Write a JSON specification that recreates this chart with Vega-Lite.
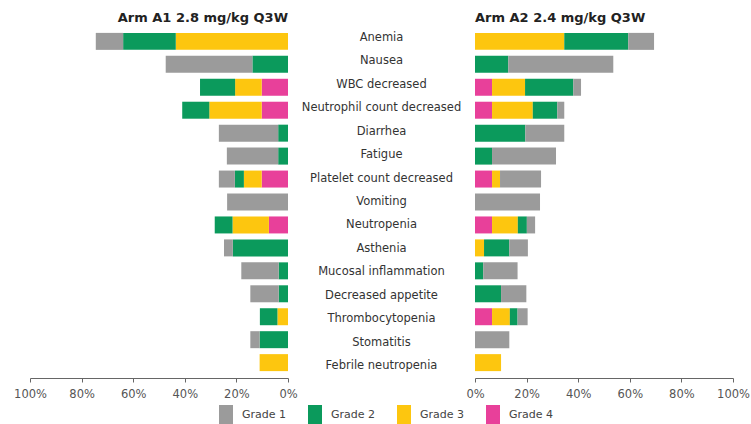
{
  "$schema": "https://vega.github.io/schema/vega-lite/v6.json",
  "padding": {"left": 13, "top": 12, "right": 0, "bottom": 0},
  "bounds": "flush",
  "spacing": 0,
  "config": {
    "view": {"stroke": null},
    "font": "DejaVu Sans",
    "axis": {"labelFont": "DejaVu Sans", "labelFontSize": 11.5, "labelColor": "#555", "domainColor": "#666", "tickColor": "#666", "tickSize": 4, "grid": false, "title": null, "labelFlush": false},
    "legend": {"labelFont": "DejaVu Sans", "labelFontSize": 11, "labelColor": "#444"}
  },
  "datasets": {
    "ae": [
      {"arm": "A1", "ae": "Anemia", "grade": "Grade 3", "pct": 43.5},
      {"arm": "A1", "ae": "Anemia", "grade": "Grade 2", "pct": 20.4},
      {"arm": "A1", "ae": "Anemia", "grade": "Grade 1", "pct": 10.6},
      {"arm": "A1", "ae": "Nausea", "grade": "Grade 2", "pct": 13.8},
      {"arm": "A1", "ae": "Nausea", "grade": "Grade 1", "pct": 33.6},
      {"arm": "A1", "ae": "WBC decreased", "grade": "Grade 4", "pct": 10.2},
      {"arm": "A1", "ae": "WBC decreased", "grade": "Grade 3", "pct": 10.3},
      {"arm": "A1", "ae": "WBC decreased", "grade": "Grade 2", "pct": 13.6},
      {"arm": "A1", "ae": "Neutrophil count decreased", "grade": "Grade 4", "pct": 10.2},
      {"arm": "A1", "ae": "Neutrophil count decreased", "grade": "Grade 3", "pct": 20.3},
      {"arm": "A1", "ae": "Neutrophil count decreased", "grade": "Grade 2", "pct": 10.5},
      {"arm": "A1", "ae": "Diarrhea", "grade": "Grade 2", "pct": 3.8},
      {"arm": "A1", "ae": "Diarrhea", "grade": "Grade 1", "pct": 23.0},
      {"arm": "A1", "ae": "Fatigue", "grade": "Grade 2", "pct": 3.8},
      {"arm": "A1", "ae": "Fatigue", "grade": "Grade 1", "pct": 19.9},
      {"arm": "A1", "ae": "Platelet count decreased", "grade": "Grade 4", "pct": 10.2},
      {"arm": "A1", "ae": "Platelet count decreased", "grade": "Grade 3", "pct": 6.9},
      {"arm": "A1", "ae": "Platelet count decreased", "grade": "Grade 2", "pct": 3.5},
      {"arm": "A1", "ae": "Platelet count decreased", "grade": "Grade 1", "pct": 6.2},
      {"arm": "A1", "ae": "Vomiting", "grade": "Grade 1", "pct": 23.6},
      {"arm": "A1", "ae": "Neutropenia", "grade": "Grade 4", "pct": 7.4},
      {"arm": "A1", "ae": "Neutropenia", "grade": "Grade 3", "pct": 14.1},
      {"arm": "A1", "ae": "Neutropenia", "grade": "Grade 2", "pct": 6.9},
      {"arm": "A1", "ae": "Asthenia", "grade": "Grade 2", "pct": 21.4},
      {"arm": "A1", "ae": "Asthenia", "grade": "Grade 1", "pct": 3.4},
      {"arm": "A1", "ae": "Mucosal inflammation", "grade": "Grade 2", "pct": 3.6},
      {"arm": "A1", "ae": "Mucosal inflammation", "grade": "Grade 1", "pct": 14.5},
      {"arm": "A1", "ae": "Decreased appetite", "grade": "Grade 2", "pct": 3.6},
      {"arm": "A1", "ae": "Decreased appetite", "grade": "Grade 1", "pct": 11.0},
      {"arm": "A1", "ae": "Thrombocytopenia", "grade": "Grade 3", "pct": 4.1},
      {"arm": "A1", "ae": "Thrombocytopenia", "grade": "Grade 2", "pct": 6.8},
      {"arm": "A1", "ae": "Stomatitis", "grade": "Grade 2", "pct": 11.0},
      {"arm": "A1", "ae": "Stomatitis", "grade": "Grade 1", "pct": 3.6},
      {"arm": "A1", "ae": "Febrile neutropenia", "grade": "Grade 3", "pct": 11.0},
      {"arm": "A2", "ae": "Anemia", "grade": "Grade 3", "pct": 34.6},
      {"arm": "A2", "ae": "Anemia", "grade": "Grade 2", "pct": 24.8},
      {"arm": "A2", "ae": "Anemia", "grade": "Grade 1", "pct": 10.0},
      {"arm": "A2", "ae": "Nausea", "grade": "Grade 2", "pct": 12.9},
      {"arm": "A2", "ae": "Nausea", "grade": "Grade 1", "pct": 40.7},
      {"arm": "A2", "ae": "WBC decreased", "grade": "Grade 4", "pct": 6.6},
      {"arm": "A2", "ae": "WBC decreased", "grade": "Grade 3", "pct": 12.8},
      {"arm": "A2", "ae": "WBC decreased", "grade": "Grade 2", "pct": 18.7},
      {"arm": "A2", "ae": "WBC decreased", "grade": "Grade 1", "pct": 3.0},
      {"arm": "A2", "ae": "Neutrophil count decreased", "grade": "Grade 4", "pct": 6.6},
      {"arm": "A2", "ae": "Neutrophil count decreased", "grade": "Grade 3", "pct": 15.8},
      {"arm": "A2", "ae": "Neutrophil count decreased", "grade": "Grade 2", "pct": 9.5},
      {"arm": "A2", "ae": "Neutrophil count decreased", "grade": "Grade 1", "pct": 2.7},
      {"arm": "A2", "ae": "Diarrhea", "grade": "Grade 2", "pct": 19.5},
      {"arm": "A2", "ae": "Diarrhea", "grade": "Grade 1", "pct": 15.1},
      {"arm": "A2", "ae": "Fatigue", "grade": "Grade 2", "pct": 6.6},
      {"arm": "A2", "ae": "Fatigue", "grade": "Grade 1", "pct": 24.8},
      {"arm": "A2", "ae": "Platelet count decreased", "grade": "Grade 4", "pct": 6.6},
      {"arm": "A2", "ae": "Platelet count decreased", "grade": "Grade 3", "pct": 3.1},
      {"arm": "A2", "ae": "Platelet count decreased", "grade": "Grade 1", "pct": 15.9},
      {"arm": "A2", "ae": "Vomiting", "grade": "Grade 1", "pct": 25.2},
      {"arm": "A2", "ae": "Neutropenia", "grade": "Grade 4", "pct": 6.6},
      {"arm": "A2", "ae": "Neutropenia", "grade": "Grade 3", "pct": 10.0},
      {"arm": "A2", "ae": "Neutropenia", "grade": "Grade 2", "pct": 3.5},
      {"arm": "A2", "ae": "Neutropenia", "grade": "Grade 1", "pct": 3.2},
      {"arm": "A2", "ae": "Asthenia", "grade": "Grade 3", "pct": 3.5},
      {"arm": "A2", "ae": "Asthenia", "grade": "Grade 2", "pct": 9.8},
      {"arm": "A2", "ae": "Asthenia", "grade": "Grade 1", "pct": 7.2},
      {"arm": "A2", "ae": "Mucosal inflammation", "grade": "Grade 2", "pct": 3.2},
      {"arm": "A2", "ae": "Mucosal inflammation", "grade": "Grade 1", "pct": 13.3},
      {"arm": "A2", "ae": "Decreased appetite", "grade": "Grade 2", "pct": 10.1},
      {"arm": "A2", "ae": "Decreased appetite", "grade": "Grade 1", "pct": 9.8},
      {"arm": "A2", "ae": "Thrombocytopenia", "grade": "Grade 4", "pct": 6.6},
      {"arm": "A2", "ae": "Thrombocytopenia", "grade": "Grade 3", "pct": 6.9},
      {"arm": "A2", "ae": "Thrombocytopenia", "grade": "Grade 2", "pct": 3.0},
      {"arm": "A2", "ae": "Thrombocytopenia", "grade": "Grade 1", "pct": 3.9},
      {"arm": "A2", "ae": "Stomatitis", "grade": "Grade 1", "pct": 13.3},
      {"arm": "A2", "ae": "Febrile neutropenia", "grade": "Grade 3", "pct": 10.1}
    ],
    "labels": [
      {"ae": "Anemia", "pos": 0.5}, {"ae": "Nausea", "pos": 0.5}, {"ae": "WBC decreased", "pos": 0.5}, {"ae": "Neutrophil count decreased", "pos": 0.5},
      {"ae": "Diarrhea", "pos": 0.5}, {"ae": "Fatigue", "pos": 0.5}, {"ae": "Platelet count decreased", "pos": 0.5}, {"ae": "Vomiting", "pos": 0.5},
      {"ae": "Neutropenia", "pos": 0.5}, {"ae": "Asthenia", "pos": 0.5}, {"ae": "Mucosal inflammation", "pos": 0.5}, {"ae": "Decreased appetite", "pos": 0.5},
      {"ae": "Thrombocytopenia", "pos": 0.5}, {"ae": "Stomatitis", "pos": 0.5}, {"ae": "Febrile neutropenia", "pos": 0.5}
    ]
  },
  "hconcat": [
    {
      "width": 258,
      "height": 352,
      "title": {"text": "Arm A1 2.8 mg/kg Q3W", "anchor": "end", "frame": "group", "fontSize": 13, "fontWeight": "bold", "font": "DejaVu Sans", "color": "#222", "baseline": "alphabetic", "offset": -9},
      "data": {"name": "ae"},
      "transform": [{"filter": "datum.arm === 'A1'"}],
      "mark": {"type": "bar"},
      "encoding": {
        "y": {"field": "ae", "type": "nominal", "sort": null, "axis": null, "scale": {"paddingInner": 0.26, "paddingOuter": 0.3}},
        "x": {"field": "pct", "type": "quantitative", "stack": "zero", "scale": {"domain": [0, 100], "reverse": true, "nice": false},
              "axis": {"values": [0, 20, 40, 60, 80, 100], "labelExpr": "datum.value + '%'", "labelPadding": 6}},
        "color": {"field": "grade", "type": "nominal",
                  "scale": {"domain": ["Grade 1", "Grade 2", "Grade 3", "Grade 4"], "range": ["#9b9b9b", "#0b9a5c", "#fdc60f", "#e8409a"]},
                  "legend": {"title": null, "orient": "none", "legendX": 186, "legendY": 379, "direction": "horizontal", "symbolType": "M-0.7,-1H0.7V1H-0.7Z", "symbolSize": 400, "symbolStrokeWidth": 0, "columnPadding": 18, "labelOffset": 6}},
        "order": {"field": "grade", "sort": "descending"}
      }
    },
    {
      "width": 187,
      "height": 352,
      "data": {"name": "labels"},
      "mark": {"type": "text", "align": "center", "baseline": "middle", "fontSize": 11.5, "font": "DejaVu Sans", "color": "#333"},
      "encoding": {
        "y": {"field": "ae", "type": "nominal", "sort": null, "axis": null, "scale": {"paddingInner": 0.26, "paddingOuter": 0.3}},
        "x": {"field": "pos", "type": "quantitative", "scale": {"domain": [0, 1]}, "axis": null},
        "text": {"field": "ae"}
      }
    },
    {
      "width": 258,
      "height": 352,
      "title": {"text": "Arm A2 2.4 mg/kg Q3W", "anchor": "start", "frame": "group", "fontSize": 13, "fontWeight": "bold", "font": "DejaVu Sans", "color": "#222", "baseline": "alphabetic", "offset": -9},
      "data": {"name": "ae"},
      "transform": [{"filter": "datum.arm === 'A2'"}],
      "mark": {"type": "bar"},
      "encoding": {
        "y": {"field": "ae", "type": "nominal", "sort": null, "axis": null, "scale": {"paddingInner": 0.26, "paddingOuter": 0.3}},
        "x": {"field": "pct", "type": "quantitative", "stack": "zero", "scale": {"domain": [0, 100], "nice": false},
              "axis": {"values": [0, 20, 40, 60, 80, 100], "labelExpr": "datum.value + '%'", "labelPadding": 6}},
        "color": {"field": "grade", "type": "nominal",
                  "scale": {"domain": ["Grade 1", "Grade 2", "Grade 3", "Grade 4"], "range": ["#9b9b9b", "#0b9a5c", "#fdc60f", "#e8409a"]}},
        "order": {"field": "grade", "sort": "descending"}
      }
    }
  ]
}
